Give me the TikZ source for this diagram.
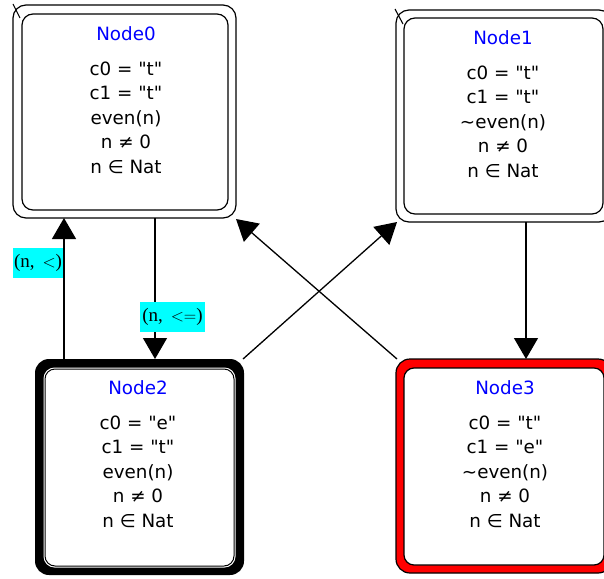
\documentclass[tikz,border=0pt]{standalone}
\usepackage{fontspec}
\usetikzlibrary{arrows.meta}
\newfontfamily\nodefont{DejaVu Sans}
\newfontfamily\lblfont{Liberation Serif}
\definecolor{titleblue}{RGB}{0,0,255}
\definecolor{lblcyan}{RGB}{0,255,255}
\definecolor{statered}{RGB}{255,0,0}
\tikzset{
  frame/.style={rectangle, inner sep=0pt, outer sep=0pt, line width=1.2pt},
  plainouter/.style={frame, draw=black, fill=white, rounded corners=13pt},
  plaininner/.style={frame, draw=black, fill=white, rounded corners=11pt},
  txt/.style={inner sep=0pt, align=center, font=\nodefont\fontsize{18.3}{24.5}\selectfont},
  lbl/.style={fill=lblcyan, inner sep=0pt, font=\lblfont\fontsize{19}{21}\selectfont},
  arr/.style={line width=1.3pt, -{Triangle[length=21pt,width=24pt]}},
  tick/.style={line width=1.1pt}
}
\begin{document}
\begin{tikzpicture}[x=1pt,y=-1pt]
\useasboundingbox (0,0) rectangle (604,578);
% columns for vertical connectors
\coordinate (c64) at (64,0);
\coordinate (c155) at (155,0);
\coordinate (c526) at (526,0);

% Node0
\node[plainouter, minimum width=223pt, minimum height=213pt] (n0) at (124.5,111.5) {};
\node[plaininner, minimum width=206pt, minimum height=196pt] (n0i) at (125,112) {};
\draw[tick] ([shift={(0,-1)}]n0.north west) -- ([shift={(7,13)}]n0.north west);
\node[txt] (t0) at (126,100) {\textcolor{titleblue}{Node0}\\[10pt]
  c0 = "t"\\ c1 = "t"\\ even(n)\\ n ≠ 0\\ n ∈ Nat};

% Node1
\node[plainouter, minimum width=216pt, minimum height=212pt] (n1) at (504,116) {};
\node[plaininner, minimum width=199pt, minimum height=196pt] (n1i) at (503.5,116) {};
\draw[tick] ([shift={(-1,-1)}]n1.north west) -- ([shift={(7,14)}]n1.north west);
\node[txt] (t1) at (503,104) {\textcolor{titleblue}{Node1}\\[10pt]
  c0 = "t"\\ c1 = "t"\\ \textasciitilde even(n)\\ n ≠ 0\\ n ∈ Nat};

% Node2 (thick black frame)
\node[frame, fill=black, rounded corners=14pt, minimum width=209pt, minimum height=216pt] (n2) at (139.5,467) {};
\node[frame, fill=white, rounded corners=11pt, minimum width=192pt, minimum height=200pt] (n2w) at (139.5,467.5) {};
\node[frame, draw=black, line width=1pt, rounded corners=10pt, minimum width=189pt, minimum height=197pt] (n2i) at (139.5,467.5) {};
\node[txt] (t2) at (138,454) {\textcolor{titleblue}{Node2}\\[10pt]
  c0 = "e"\\ c1 = "t"\\ even(n)\\ n ≠ 0\\ n ∈ Nat};

% Node3 (red frame)
\node[frame, draw=black, fill=statered, rounded corners=14pt, minimum width=216pt, minimum height=214pt] (n3) at (504,466) {};
\node[frame, draw=black, fill=white, rounded corners=10pt, minimum width=200pt, minimum height=197pt] (n3i) at (504,466.5) {};
\node[txt] (t3) at (505,454) {\textcolor{titleblue}{Node3}\\[10pt]
  c0 = "t"\\ c1 = "e"\\ \textasciitilde even(n)\\ n ≠ 0\\ n ∈ Nat};

% connectors
\draw[arr] (n2.north -| c64) -- (n0.south -| c64);
\draw[arr] (n0.south -| c155) -- (n2.north -| c155);
\draw[arr] (n1.south -| c526) -- (n3.north -| c526);
\draw[arr] ([shift={(-1,0)}]n2.north east) -- ([shift={(1,0)}]n1.south west);
\draw[arr] ([shift={(1,0)}]n3.north west) -- ([shift={(0,1)}]n0.south east);

% labels
\node[lbl, minimum width=50pt, minimum height=30pt] (l0) at (38,263) {(n,\, $<$)};
\node[lbl, minimum width=65pt, minimum height=30pt] (l1) at (172.5,317) {(n,\, $<$$=$)};
\end{tikzpicture}
\end{document}
